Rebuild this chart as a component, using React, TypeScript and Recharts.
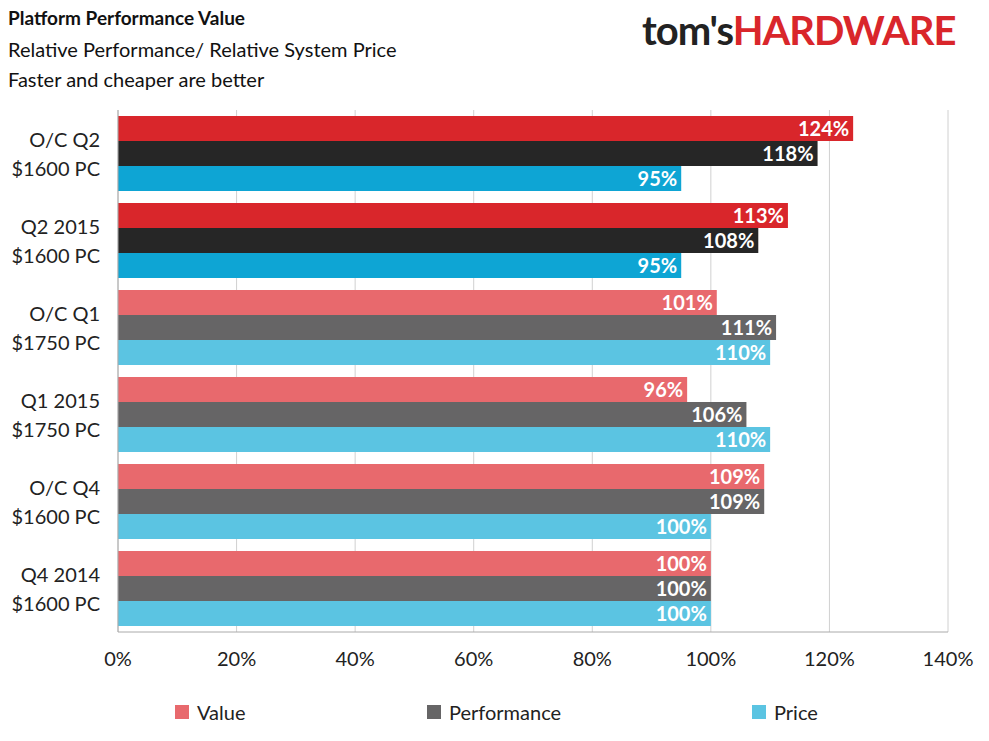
import React from 'react';
import { BarChart, Bar, XAxis, YAxis, CartesianGrid, Cell, LabelList } from 'recharts';

const categories = ['O/C Q2|$1600 PC', 'Q2 2015|$1600 PC', 'O/C Q1|$1750 PC', 'Q1 2015|$1750 PC', 'O/C Q4|$1600 PC', 'Q4  2014|$1600 PC'];
const valueSeries = [124, 113, 101, 96, 109, 100];
const perfSeries = [118, 108, 111, 106, 109, 100];
const priceSeries = [95, 95, 110, 110, 100, 100];
const xTicks = [0, 20, 40, 60, 80, 100, 120, 140];
const dark = [true, true, false, false, false, false];

const data = categories.map((c, i) => ({ c, value: valueSeries[i], perf: perfSeries[i], price: priceSeries[i], dark: dark[i] }));

const colors = {
  value: ['#d9262b', '#e8696d'],
  perf: ['#262626', '#666566'],
  price: ['#0ea5d4', '#5bc4e2'],
};

const font = 'Lato, "Open Sans", sans-serif';

const YTick = (props: any) => {
  const { x, y, payload } = props;
  const [a, b] = String(payload.value).split('|');
  return (
    <g>
      <text x={x} y={y - 7} textAnchor="end" fontSize={20} fill="#222" fontFamily={font}>{a}</text>
      <text x={x} y={y + 22} textAnchor="end" fontSize={20} fill="#222" fontFamily={font}>{b}</text>
    </g>
  );
};

const series: [keyof typeof colors, string][] = [['value', 'Value'], ['perf', 'Performance'], ['price', 'Price']];

export default function App() {
  return (
    <div style={{ position: 'absolute', left: 0, top: 0, width: 989, height: 741, background: '#fff', fontFamily: font }}>
      <div style={{ position: 'absolute', left: 8, top: 6, fontSize: 19, fontWeight: 'bold', color: '#111' }}>Platform Performance Value</div>
      <div style={{ position: 'absolute', left: 8, top: 37, fontSize: 20, color: '#111' }}>Relative Performance/ Relative System Price</div>
      <div style={{ position: 'absolute', left: 8, top: 67, fontSize: 20, color: '#111' }}>Faster and cheaper are better</div>
      <div style={{ position: 'absolute', left: 642, top: 6, fontSize: 40, fontWeight: 'bold', letterSpacing: -1 }}>
        <span style={{ color: '#222' }}>tom's</span><span style={{ color: '#d9262b' }}>HARDWARE</span>
      </div>
      <BarChart width={989} height={690} data={data} layout="vertical" barCategoryGap="7%" barGap={0}
        margin={{ top: 110, right: 41, bottom: 0, left: 8 }}>
        <CartesianGrid horizontal={false} stroke="#d0d0d0" />
        <XAxis type="number" domain={[0, 140]} ticks={xTicks} tickFormatter={(v) => v + '%'} axisLine={{ stroke: '#aaa' }}
          tickLine={false} tick={{ fontSize: 20, fill: '#222', fontFamily: font }} tickMargin={14} height={58} interval={0} />
        <YAxis type="category" dataKey="c" width={110} tick={<YTick />} axisLine={{ stroke: '#aaa' }} tickLine={false} tickMargin={12} />
        {series.map(([k]) => (
          <Bar key={k} dataKey={k} isAnimationActive={false}>
            {data.map((d, i) => <Cell key={i} fill={colors[k][d.dark ? 0 : 1]} />)}
            <LabelList dataKey={k} position="insideRight" formatter={(v: any) => v + '%'} fill="#fff" fontSize={20} fontWeight="bold" fontFamily={font} offset={4} />
          </Bar>
        ))}
      </BarChart>
      <div style={{ position: 'absolute', top: 700, left: 0, width: 989, height: 26 }}>
        {series.map(([k, name], i) => (
          <div key={k} style={{ position: 'absolute', left: [175, 427, 752][i], top: 0, display: 'flex', alignItems: 'center', fontSize: 20, color: '#222' }}>
            <span style={{ width: 14, height: 14, background: colors[k][1], marginRight: 8, display: 'inline-block' }} />{name}
          </div>
        ))}
      </div>
    </div>
  );
}
